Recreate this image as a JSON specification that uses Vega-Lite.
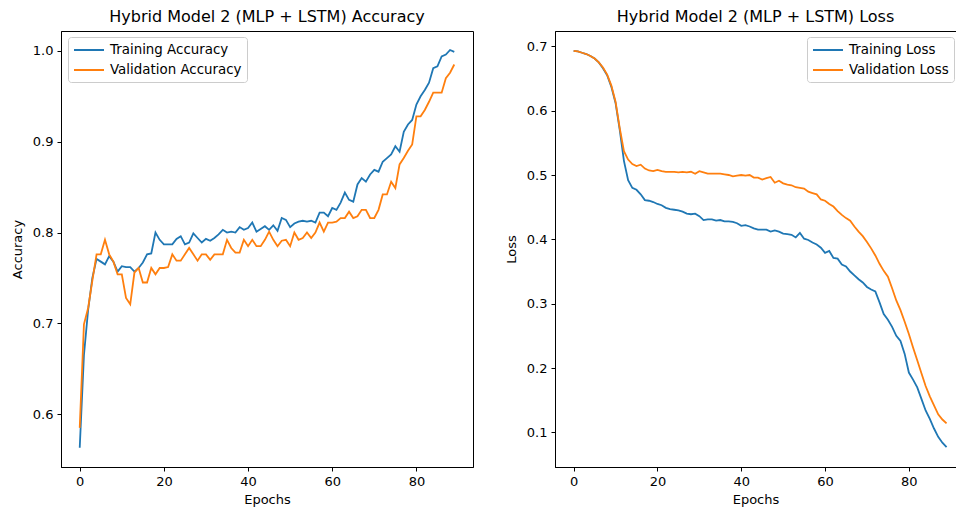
{
  "$schema": "https://vega.github.io/schema/vega-lite/v6.json",
  "padding": {"left": 10, "top": 8, "right": 0, "bottom": 0},
  "background": "white",
  "bounds": "flush",
  "spacing": 82,
  "config": {
    "font": "DejaVu Sans",
    "view": {"stroke": null},
    "axis": {"domainColor": "#000", "domainWidth": 1, "tickColor": "#000", "tickSize": 4, "tickWidth": 1, "labelFontSize": 13, "labelColor": "#000", "titleFontSize": 13, "titleFontWeight": "normal", "titleColor": "#000", "grid": false, "labelPadding": 4, "titlePadding": 8, "labelFont": "DejaVu Sans", "titleFont": "DejaVu Sans", "labelFlush": false},
    "axisX": {"titlePadding": 5},
    "title": {"fontSize": 16, "fontWeight": "normal", "font": "DejaVu Sans", "color": "#000", "offset": 6, "anchor": "middle"},
    "legend": {"labelFontSize": 13.4, "labelFont": "DejaVu Sans", "labelColor": "#000", "symbolType": "M-2.14,0H2.14", "symbolSize": 196, "symbolStrokeWidth": 2, "symbolOffset": 8, "labelOffset": 13, "padding": 5, "rowPadding": 5, "fillColor": "rgba(255,255,255,0.8)", "strokeColor": "#cccccc", "cornerRadius": 3, "title": null}
  },
  "resolve": {"scale": {"color": "independent", "x": "independent", "y": "independent"}, "legend": {"color": "independent"}},
  "datasets": {
    "acc": [
      {"epoch":0,"series":"Training Accuracy","value":0.563},{"epoch":1,"series":"Training Accuracy","value":0.665},{"epoch":2,"series":"Training Accuracy","value":0.715},{"epoch":3,"series":"Training Accuracy","value":0.750},{"epoch":4,"series":"Training Accuracy","value":0.771},{"epoch":5,"series":"Training Accuracy","value":0.768},{"epoch":6,"series":"Training Accuracy","value":0.765},{"epoch":7,"series":"Training Accuracy","value":0.774},{"epoch":8,"series":"Training Accuracy","value":0.768},{"epoch":9,"series":"Training Accuracy","value":0.757},
      {"epoch":10,"series":"Training Accuracy","value":0.763},{"epoch":11,"series":"Training Accuracy","value":0.762},{"epoch":12,"series":"Training Accuracy","value":0.762},{"epoch":13,"series":"Training Accuracy","value":0.757},{"epoch":14,"series":"Training Accuracy","value":0.761},{"epoch":15,"series":"Training Accuracy","value":0.767},{"epoch":16,"series":"Training Accuracy","value":0.776},{"epoch":17,"series":"Training Accuracy","value":0.777},{"epoch":18,"series":"Training Accuracy","value":0.800},{"epoch":19,"series":"Training Accuracy","value":0.792},
      {"epoch":20,"series":"Training Accuracy","value":0.787},{"epoch":21,"series":"Training Accuracy","value":0.787},{"epoch":22,"series":"Training Accuracy","value":0.787},{"epoch":23,"series":"Training Accuracy","value":0.793},{"epoch":24,"series":"Training Accuracy","value":0.796},{"epoch":25,"series":"Training Accuracy","value":0.787},{"epoch":26,"series":"Training Accuracy","value":0.789},{"epoch":27,"series":"Training Accuracy","value":0.799},{"epoch":28,"series":"Training Accuracy","value":0.794},{"epoch":29,"series":"Training Accuracy","value":0.789},
      {"epoch":30,"series":"Training Accuracy","value":0.793},{"epoch":31,"series":"Training Accuracy","value":0.791},{"epoch":32,"series":"Training Accuracy","value":0.794},{"epoch":33,"series":"Training Accuracy","value":0.798},{"epoch":34,"series":"Training Accuracy","value":0.803},{"epoch":35,"series":"Training Accuracy","value":0.800},{"epoch":36,"series":"Training Accuracy","value":0.801},{"epoch":37,"series":"Training Accuracy","value":0.800},{"epoch":38,"series":"Training Accuracy","value":0.806},{"epoch":39,"series":"Training Accuracy","value":0.803},
      {"epoch":40,"series":"Training Accuracy","value":0.805},{"epoch":41,"series":"Training Accuracy","value":0.811},{"epoch":42,"series":"Training Accuracy","value":0.801},{"epoch":43,"series":"Training Accuracy","value":0.804},{"epoch":44,"series":"Training Accuracy","value":0.807},{"epoch":45,"series":"Training Accuracy","value":0.803},{"epoch":46,"series":"Training Accuracy","value":0.808},{"epoch":47,"series":"Training Accuracy","value":0.802},{"epoch":48,"series":"Training Accuracy","value":0.816},{"epoch":49,"series":"Training Accuracy","value":0.814},
      {"epoch":50,"series":"Training Accuracy","value":0.806},{"epoch":51,"series":"Training Accuracy","value":0.810},{"epoch":52,"series":"Training Accuracy","value":0.812},{"epoch":53,"series":"Training Accuracy","value":0.813},{"epoch":54,"series":"Training Accuracy","value":0.812},{"epoch":55,"series":"Training Accuracy","value":0.813},{"epoch":56,"series":"Training Accuracy","value":0.811},{"epoch":57,"series":"Training Accuracy","value":0.822},{"epoch":58,"series":"Training Accuracy","value":0.822},{"epoch":59,"series":"Training Accuracy","value":0.818},
      {"epoch":60,"series":"Training Accuracy","value":0.827},{"epoch":61,"series":"Training Accuracy","value":0.825},{"epoch":62,"series":"Training Accuracy","value":0.833},{"epoch":63,"series":"Training Accuracy","value":0.844},{"epoch":64,"series":"Training Accuracy","value":0.836},{"epoch":65,"series":"Training Accuracy","value":0.834},{"epoch":66,"series":"Training Accuracy","value":0.853},{"epoch":67,"series":"Training Accuracy","value":0.860},{"epoch":68,"series":"Training Accuracy","value":0.856},{"epoch":69,"series":"Training Accuracy","value":0.864},
      {"epoch":70,"series":"Training Accuracy","value":0.869},{"epoch":71,"series":"Training Accuracy","value":0.867},{"epoch":72,"series":"Training Accuracy","value":0.878},{"epoch":73,"series":"Training Accuracy","value":0.882},{"epoch":74,"series":"Training Accuracy","value":0.886},{"epoch":75,"series":"Training Accuracy","value":0.895},{"epoch":76,"series":"Training Accuracy","value":0.889},{"epoch":77,"series":"Training Accuracy","value":0.911},{"epoch":78,"series":"Training Accuracy","value":0.919},{"epoch":79,"series":"Training Accuracy","value":0.924},
      {"epoch":80,"series":"Training Accuracy","value":0.941},{"epoch":81,"series":"Training Accuracy","value":0.950},{"epoch":82,"series":"Training Accuracy","value":0.957},{"epoch":83,"series":"Training Accuracy","value":0.965},{"epoch":84,"series":"Training Accuracy","value":0.981},{"epoch":85,"series":"Training Accuracy","value":0.983},{"epoch":86,"series":"Training Accuracy","value":0.994},{"epoch":87,"series":"Training Accuracy","value":0.996},{"epoch":88,"series":"Training Accuracy","value":1.001},{"epoch":89,"series":"Training Accuracy","value":0.999},
      {"epoch":0,"series":"Validation Accuracy","value":0.585},{"epoch":1,"series":"Validation Accuracy","value":0.699},{"epoch":2,"series":"Validation Accuracy","value":0.717},{"epoch":3,"series":"Validation Accuracy","value":0.747},{"epoch":4,"series":"Validation Accuracy","value":0.776},{"epoch":5,"series":"Validation Accuracy","value":0.776},{"epoch":6,"series":"Validation Accuracy","value":0.792},{"epoch":7,"series":"Validation Accuracy","value":0.776},{"epoch":8,"series":"Validation Accuracy","value":0.768},{"epoch":9,"series":"Validation Accuracy","value":0.754},
      {"epoch":10,"series":"Validation Accuracy","value":0.754},{"epoch":11,"series":"Validation Accuracy","value":0.728},{"epoch":12,"series":"Validation Accuracy","value":0.721},{"epoch":13,"series":"Validation Accuracy","value":0.756},{"epoch":14,"series":"Validation Accuracy","value":0.761},{"epoch":15,"series":"Validation Accuracy","value":0.745},{"epoch":16,"series":"Validation Accuracy","value":0.745},{"epoch":17,"series":"Validation Accuracy","value":0.761},{"epoch":18,"series":"Validation Accuracy","value":0.754},{"epoch":19,"series":"Validation Accuracy","value":0.761},
      {"epoch":20,"series":"Validation Accuracy","value":0.761},{"epoch":21,"series":"Validation Accuracy","value":0.762},{"epoch":22,"series":"Validation Accuracy","value":0.776},{"epoch":23,"series":"Validation Accuracy","value":0.769},{"epoch":24,"series":"Validation Accuracy","value":0.769},{"epoch":25,"series":"Validation Accuracy","value":0.776},{"epoch":26,"series":"Validation Accuracy","value":0.783},{"epoch":27,"series":"Validation Accuracy","value":0.776},{"epoch":28,"series":"Validation Accuracy","value":0.769},{"epoch":29,"series":"Validation Accuracy","value":0.776},
      {"epoch":30,"series":"Validation Accuracy","value":0.776},{"epoch":31,"series":"Validation Accuracy","value":0.770},{"epoch":32,"series":"Validation Accuracy","value":0.776},{"epoch":33,"series":"Validation Accuracy","value":0.776},{"epoch":34,"series":"Validation Accuracy","value":0.776},{"epoch":35,"series":"Validation Accuracy","value":0.792},{"epoch":36,"series":"Validation Accuracy","value":0.783},{"epoch":37,"series":"Validation Accuracy","value":0.778},{"epoch":38,"series":"Validation Accuracy","value":0.778},{"epoch":39,"series":"Validation Accuracy","value":0.792},
      {"epoch":40,"series":"Validation Accuracy","value":0.785},{"epoch":41,"series":"Validation Accuracy","value":0.792},{"epoch":42,"series":"Validation Accuracy","value":0.785},{"epoch":43,"series":"Validation Accuracy","value":0.785},{"epoch":44,"series":"Validation Accuracy","value":0.792},{"epoch":45,"series":"Validation Accuracy","value":0.801},{"epoch":46,"series":"Validation Accuracy","value":0.792},{"epoch":47,"series":"Validation Accuracy","value":0.785},{"epoch":48,"series":"Validation Accuracy","value":0.791},{"epoch":49,"series":"Validation Accuracy","value":0.792},
      {"epoch":50,"series":"Validation Accuracy","value":0.785},{"epoch":51,"series":"Validation Accuracy","value":0.800},{"epoch":52,"series":"Validation Accuracy","value":0.792},{"epoch":53,"series":"Validation Accuracy","value":0.794},{"epoch":54,"series":"Validation Accuracy","value":0.800},{"epoch":55,"series":"Validation Accuracy","value":0.794},{"epoch":56,"series":"Validation Accuracy","value":0.800},{"epoch":57,"series":"Validation Accuracy","value":0.811},{"epoch":58,"series":"Validation Accuracy","value":0.801},{"epoch":59,"series":"Validation Accuracy","value":0.811},
      {"epoch":60,"series":"Validation Accuracy","value":0.811},{"epoch":61,"series":"Validation Accuracy","value":0.812},{"epoch":62,"series":"Validation Accuracy","value":0.816},{"epoch":63,"series":"Validation Accuracy","value":0.816},{"epoch":64,"series":"Validation Accuracy","value":0.823},{"epoch":65,"series":"Validation Accuracy","value":0.816},{"epoch":66,"series":"Validation Accuracy","value":0.818},{"epoch":67,"series":"Validation Accuracy","value":0.825},{"epoch":68,"series":"Validation Accuracy","value":0.825},{"epoch":69,"series":"Validation Accuracy","value":0.816},
      {"epoch":70,"series":"Validation Accuracy","value":0.816},{"epoch":71,"series":"Validation Accuracy","value":0.825},{"epoch":72,"series":"Validation Accuracy","value":0.842},{"epoch":73,"series":"Validation Accuracy","value":0.842},{"epoch":74,"series":"Validation Accuracy","value":0.856},{"epoch":75,"series":"Validation Accuracy","value":0.849},{"epoch":76,"series":"Validation Accuracy","value":0.875},{"epoch":77,"series":"Validation Accuracy","value":0.882},{"epoch":78,"series":"Validation Accuracy","value":0.890},{"epoch":79,"series":"Validation Accuracy","value":0.897},
      {"epoch":80,"series":"Validation Accuracy","value":0.928},{"epoch":81,"series":"Validation Accuracy","value":0.928},{"epoch":82,"series":"Validation Accuracy","value":0.935},{"epoch":83,"series":"Validation Accuracy","value":0.944},{"epoch":84,"series":"Validation Accuracy","value":0.954},{"epoch":85,"series":"Validation Accuracy","value":0.954},{"epoch":86,"series":"Validation Accuracy","value":0.954},{"epoch":87,"series":"Validation Accuracy","value":0.970},{"epoch":88,"series":"Validation Accuracy","value":0.976},{"epoch":89,"series":"Validation Accuracy","value":0.985}
    ],
    "loss": [
      {"epoch":0,"series":"Training Loss","value":0.693},{"epoch":1,"series":"Training Loss","value":0.692},{"epoch":2,"series":"Training Loss","value":0.690},{"epoch":3,"series":"Training Loss","value":0.688},{"epoch":4,"series":"Training Loss","value":0.685},{"epoch":5,"series":"Training Loss","value":0.681},{"epoch":6,"series":"Training Loss","value":0.675},{"epoch":7,"series":"Training Loss","value":0.666},{"epoch":8,"series":"Training Loss","value":0.655},{"epoch":9,"series":"Training Loss","value":0.637},
      {"epoch":10,"series":"Training Loss","value":0.612},{"epoch":11,"series":"Training Loss","value":0.570},{"epoch":12,"series":"Training Loss","value":0.522},{"epoch":13,"series":"Training Loss","value":0.492},{"epoch":14,"series":"Training Loss","value":0.480},{"epoch":15,"series":"Training Loss","value":0.477},{"epoch":16,"series":"Training Loss","value":0.470},{"epoch":17,"series":"Training Loss","value":0.461},{"epoch":18,"series":"Training Loss","value":0.460},{"epoch":19,"series":"Training Loss","value":0.458},
      {"epoch":20,"series":"Training Loss","value":0.455},{"epoch":21,"series":"Training Loss","value":0.453},{"epoch":22,"series":"Training Loss","value":0.449},{"epoch":23,"series":"Training Loss","value":0.447},{"epoch":24,"series":"Training Loss","value":0.446},{"epoch":25,"series":"Training Loss","value":0.445},{"epoch":26,"series":"Training Loss","value":0.443},{"epoch":27,"series":"Training Loss","value":0.440},{"epoch":28,"series":"Training Loss","value":0.439},{"epoch":29,"series":"Training Loss","value":0.440},
      {"epoch":30,"series":"Training Loss","value":0.436},{"epoch":31,"series":"Training Loss","value":0.430},{"epoch":32,"series":"Training Loss","value":0.431},{"epoch":33,"series":"Training Loss","value":0.431},{"epoch":34,"series":"Training Loss","value":0.429},{"epoch":35,"series":"Training Loss","value":0.430},{"epoch":36,"series":"Training Loss","value":0.428},{"epoch":37,"series":"Training Loss","value":0.428},{"epoch":38,"series":"Training Loss","value":0.427},{"epoch":39,"series":"Training Loss","value":0.425},
      {"epoch":40,"series":"Training Loss","value":0.421},{"epoch":41,"series":"Training Loss","value":0.422},{"epoch":42,"series":"Training Loss","value":0.420},{"epoch":43,"series":"Training Loss","value":0.417},{"epoch":44,"series":"Training Loss","value":0.415},{"epoch":45,"series":"Training Loss","value":0.415},{"epoch":46,"series":"Training Loss","value":0.415},{"epoch":47,"series":"Training Loss","value":0.412},{"epoch":48,"series":"Training Loss","value":0.414},{"epoch":49,"series":"Training Loss","value":0.412},
      {"epoch":50,"series":"Training Loss","value":0.409},{"epoch":51,"series":"Training Loss","value":0.408},{"epoch":52,"series":"Training Loss","value":0.407},{"epoch":53,"series":"Training Loss","value":0.403},{"epoch":54,"series":"Training Loss","value":0.410},{"epoch":55,"series":"Training Loss","value":0.401},{"epoch":56,"series":"Training Loss","value":0.399},{"epoch":57,"series":"Training Loss","value":0.395},{"epoch":58,"series":"Training Loss","value":0.392},{"epoch":59,"series":"Training Loss","value":0.387},
      {"epoch":60,"series":"Training Loss","value":0.379},{"epoch":61,"series":"Training Loss","value":0.382},{"epoch":62,"series":"Training Loss","value":0.371},{"epoch":63,"series":"Training Loss","value":0.370},{"epoch":64,"series":"Training Loss","value":0.361},{"epoch":65,"series":"Training Loss","value":0.358},{"epoch":66,"series":"Training Loss","value":0.350},{"epoch":67,"series":"Training Loss","value":0.344},{"epoch":68,"series":"Training Loss","value":0.338},{"epoch":69,"series":"Training Loss","value":0.333},
      {"epoch":70,"series":"Training Loss","value":0.326},{"epoch":71,"series":"Training Loss","value":0.322},{"epoch":72,"series":"Training Loss","value":0.319},{"epoch":73,"series":"Training Loss","value":0.302},{"epoch":74,"series":"Training Loss","value":0.284},{"epoch":75,"series":"Training Loss","value":0.275},{"epoch":76,"series":"Training Loss","value":0.264},{"epoch":77,"series":"Training Loss","value":0.250},{"epoch":78,"series":"Training Loss","value":0.242},{"epoch":79,"series":"Training Loss","value":0.222},
      {"epoch":80,"series":"Training Loss","value":0.193},{"epoch":81,"series":"Training Loss","value":0.182},{"epoch":82,"series":"Training Loss","value":0.170},{"epoch":83,"series":"Training Loss","value":0.152},{"epoch":84,"series":"Training Loss","value":0.134},{"epoch":85,"series":"Training Loss","value":0.121},{"epoch":86,"series":"Training Loss","value":0.106},{"epoch":87,"series":"Training Loss","value":0.093},{"epoch":88,"series":"Training Loss","value":0.084},{"epoch":89,"series":"Training Loss","value":0.077},
      {"epoch":0,"series":"Validation Loss","value":0.693},{"epoch":1,"series":"Validation Loss","value":0.692},{"epoch":2,"series":"Validation Loss","value":0.690},{"epoch":3,"series":"Validation Loss","value":0.688},{"epoch":4,"series":"Validation Loss","value":0.685},{"epoch":5,"series":"Validation Loss","value":0.681},{"epoch":6,"series":"Validation Loss","value":0.675},{"epoch":7,"series":"Validation Loss","value":0.667},{"epoch":8,"series":"Validation Loss","value":0.656},{"epoch":9,"series":"Validation Loss","value":0.639},
      {"epoch":10,"series":"Validation Loss","value":0.614},{"epoch":11,"series":"Validation Loss","value":0.573},{"epoch":12,"series":"Validation Loss","value":0.537},{"epoch":13,"series":"Validation Loss","value":0.524},{"epoch":14,"series":"Validation Loss","value":0.517},{"epoch":15,"series":"Validation Loss","value":0.514},{"epoch":16,"series":"Validation Loss","value":0.516},{"epoch":17,"series":"Validation Loss","value":0.510},{"epoch":18,"series":"Validation Loss","value":0.507},{"epoch":19,"series":"Validation Loss","value":0.506},
      {"epoch":20,"series":"Validation Loss","value":0.508},{"epoch":21,"series":"Validation Loss","value":0.506},{"epoch":22,"series":"Validation Loss","value":0.505},{"epoch":23,"series":"Validation Loss","value":0.505},{"epoch":24,"series":"Validation Loss","value":0.505},{"epoch":25,"series":"Validation Loss","value":0.504},{"epoch":26,"series":"Validation Loss","value":0.505},{"epoch":27,"series":"Validation Loss","value":0.504},{"epoch":28,"series":"Validation Loss","value":0.505},{"epoch":29,"series":"Validation Loss","value":0.502},
      {"epoch":30,"series":"Validation Loss","value":0.506},{"epoch":31,"series":"Validation Loss","value":0.504},{"epoch":32,"series":"Validation Loss","value":0.502},{"epoch":33,"series":"Validation Loss","value":0.502},{"epoch":34,"series":"Validation Loss","value":0.502},{"epoch":35,"series":"Validation Loss","value":0.502},{"epoch":36,"series":"Validation Loss","value":0.501},{"epoch":37,"series":"Validation Loss","value":0.500},{"epoch":38,"series":"Validation Loss","value":0.498},{"epoch":39,"series":"Validation Loss","value":0.499},
      {"epoch":40,"series":"Validation Loss","value":0.500},{"epoch":41,"series":"Validation Loss","value":0.499},{"epoch":42,"series":"Validation Loss","value":0.500},{"epoch":43,"series":"Validation Loss","value":0.496},{"epoch":44,"series":"Validation Loss","value":0.496},{"epoch":45,"series":"Validation Loss","value":0.493},{"epoch":46,"series":"Validation Loss","value":0.495},{"epoch":47,"series":"Validation Loss","value":0.497},{"epoch":48,"series":"Validation Loss","value":0.488},{"epoch":49,"series":"Validation Loss","value":0.491},
      {"epoch":50,"series":"Validation Loss","value":0.487},{"epoch":51,"series":"Validation Loss","value":0.485},{"epoch":52,"series":"Validation Loss","value":0.484},{"epoch":53,"series":"Validation Loss","value":0.481},{"epoch":54,"series":"Validation Loss","value":0.480},{"epoch":55,"series":"Validation Loss","value":0.479},{"epoch":56,"series":"Validation Loss","value":0.474},{"epoch":57,"series":"Validation Loss","value":0.472},{"epoch":58,"series":"Validation Loss","value":0.470},{"epoch":59,"series":"Validation Loss","value":0.462},
      {"epoch":60,"series":"Validation Loss","value":0.460},{"epoch":61,"series":"Validation Loss","value":0.455},{"epoch":62,"series":"Validation Loss","value":0.451},{"epoch":63,"series":"Validation Loss","value":0.444},{"epoch":64,"series":"Validation Loss","value":0.438},{"epoch":65,"series":"Validation Loss","value":0.433},{"epoch":66,"series":"Validation Loss","value":0.429},{"epoch":67,"series":"Validation Loss","value":0.420},{"epoch":68,"series":"Validation Loss","value":0.412},{"epoch":69,"series":"Validation Loss","value":0.405},
      {"epoch":70,"series":"Validation Loss","value":0.396},{"epoch":71,"series":"Validation Loss","value":0.386},{"epoch":72,"series":"Validation Loss","value":0.375},{"epoch":73,"series":"Validation Loss","value":0.362},{"epoch":74,"series":"Validation Loss","value":0.351},{"epoch":75,"series":"Validation Loss","value":0.342},{"epoch":76,"series":"Validation Loss","value":0.324},{"epoch":77,"series":"Validation Loss","value":0.305},{"epoch":78,"series":"Validation Loss","value":0.290},{"epoch":79,"series":"Validation Loss","value":0.272},
      {"epoch":80,"series":"Validation Loss","value":0.253},{"epoch":81,"series":"Validation Loss","value":0.232},{"epoch":82,"series":"Validation Loss","value":0.212},{"epoch":83,"series":"Validation Loss","value":0.192},{"epoch":84,"series":"Validation Loss","value":0.172},{"epoch":85,"series":"Validation Loss","value":0.156},{"epoch":86,"series":"Validation Loss","value":0.142},{"epoch":87,"series":"Validation Loss","value":0.128},{"epoch":88,"series":"Validation Loss","value":0.120},{"epoch":89,"series":"Validation Loss","value":0.114}
    ]
  },
  "hconcat": [
    {
      "title": "Hybrid Model 2 (MLP + LSTM) Accuracy",
      "width": 412,
      "height": 436,
      "view": {"stroke": "#000", "strokeWidth": 1},
      "data": {"name": "acc"},
      "mark": {"type": "line", "strokeWidth": 1.8},
      "encoding": {
        "x": {"field": "epoch", "type": "quantitative", "scale": {"domain": [-4.45, 93.45], "nice": false, "zero": false}, "axis": {"title": "Epochs", "values": [0, 20, 40, 60, 80]}},
        "y": {"field": "value", "type": "quantitative", "scale": {"domain": [0.5419, 1.0219], "nice": false, "zero": false}, "axis": {"title": "Accuracy", "values": [0.6, 0.7, 0.8, 0.9, 1.0], "format": ".1f"}},
        "color": {"field": "series", "type": "nominal", "scale": {"domain": ["Training Accuracy", "Validation Accuracy"], "range": ["#1f77b4", "#ff7f0e"]}, "legend": {"orient": "none", "legendX": 7, "legendY": 6}}
      }
    },
    {
      "title": "Hybrid Model 2 (MLP + LSTM) Loss",
      "width": 401,
      "height": 436,
      "view": {"stroke": "#000000", "strokeWidth": 1},
      "data": {"name": "loss"},
      "mark": {"type": "line", "strokeWidth": 1.8},
      "encoding": {
        "x": {"field": "epoch", "type": "quantitative", "scale": {"domain": [-4.45, 91.25], "nice": false, "zero": false}, "axis": {"title": "Epochs", "values": [0, 20, 40, 60, 80]}},
        "y": {"field": "value", "type": "quantitative", "scale": {"domain": [0.0462, 0.7238], "nice": false, "zero": false}, "axis": {"title": "Loss", "values": [0.1, 0.2, 0.3, 0.4, 0.5, 0.6, 0.7], "format": ".1f"}},
        "color": {"field": "series", "type": "nominal", "scale": {"domain": ["Training Loss", "Validation Loss"], "range": ["#1f77b4", "#ff7f0e"]}, "legend": {"orient": "none", "legendX": 252, "legendY": 6}}
      }
    }
  ]
}
